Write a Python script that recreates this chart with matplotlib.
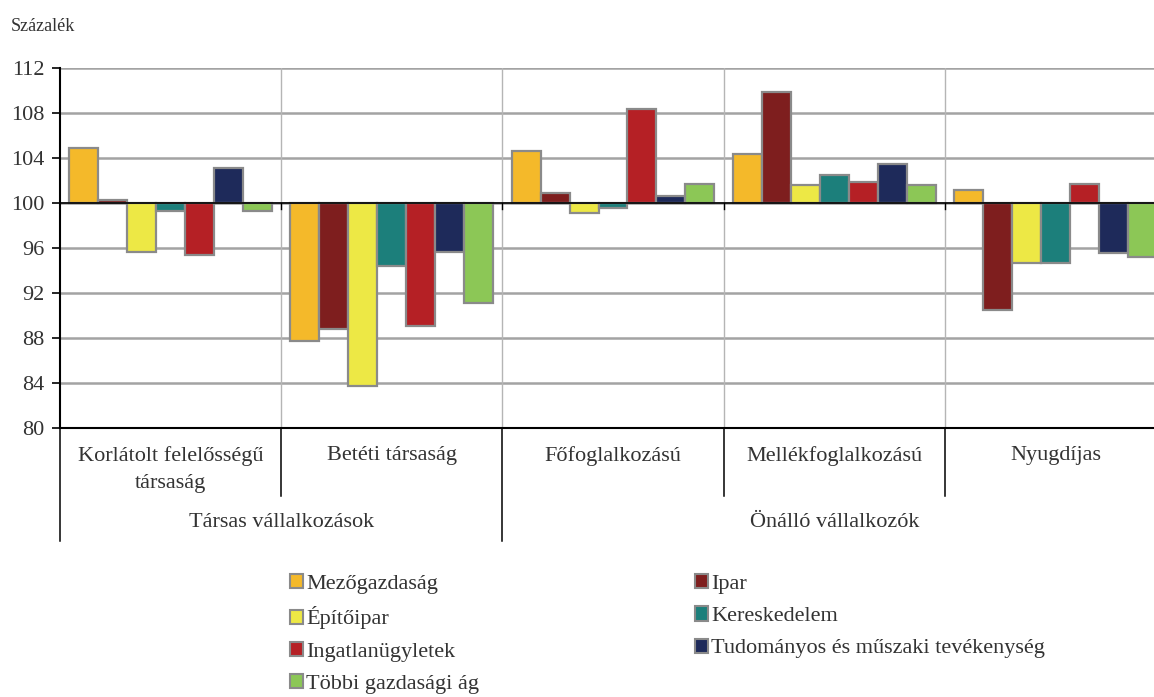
#%% Import packages
import numpy as np
from matplotlib import pyplot as plt
from matplotlib.patches import Patch

plt.rcParams['font.family'] = ['Liberation Serif', 'DejaVu Serif']

#%% Data
categories = ['Korlátolt felelősségű\ntársaság', 'Betéti társaság', 'Főfoglalkozású',
              'Mellékfoglalkozású', 'Nyugdíjas']
groups = ['Társas vállalkozások', 'Önálló vállalkozók']
groupSpans = [(0, 2), (2, 5)]

series = ['Mezőgazdaság', 'Ipar', 'Építőipar', 'Kereskedelem',
          'Ingatlanügyletek', 'Tudományos és műszaki tevékenység', 'Többi gazdasági ág']
colors = ['#f4b92a', '#7e1e1e', '#ede845', '#1c7f7b', '#b52025', '#1e2a5a', '#8cc756']

mezogazdasag = [104.9, 87.7, 104.6, 104.4, 101.2]
ipar = [100.3, 88.8, 100.9, 109.9, 90.5]
epitoipar = [95.7, 83.7, 99.1, 101.6, 94.7]
kereskedelem = [99.3, 94.4, 99.6, 102.5, 94.7]
ingatlan = [95.4, 89.1, 108.4, 101.9, 101.7]
tudomanyos = [103.1, 95.7, 100.6, 103.5, 95.6]
tobbi = [99.3, 91.1, 101.7, 101.6, 95.2]
values = [mezogazdasag, ipar, epitoipar, kereskedelem, ingatlan, tudomanyos, tobbi]

base = 100
yticks = np.arange(80, 113, 4)

#%% Plot
fig = plt.figure(figsize=(11.54, 6.97), dpi=100)
ax = fig.add_axes([0.052, 0.386, 0.9584, 0.516])

barWidth = 0.131
offset = (1 - barWidth * len(series)) / 2
x = np.arange(len(categories))
for j, (name, vals) in enumerate(zip(series, values)):
    heights = [v - base for v in vals]
    ax.bar(x + offset + j * barWidth, heights, width=barWidth, bottom=base, align='edge',
           color=colors[j], edgecolor='#8a8a8a', linewidth=1.6, label=name, zorder=3)

ax.set_xlim(0, len(categories))
ax.set_ylim(80, 112)
ax.set_yticks(yticks)
ax.set_yticklabels([str(t) for t in yticks], fontsize=16, color='#333333')
ax.set_xticks([])
ax.tick_params(axis='y', direction='out', length=6, width=1.2, color='black', pad=5)

ax.set_axisbelow(True)
ax.yaxis.grid(True, color='#a3a3a3', linewidth=1.8)
for i in range(1, len(categories)):
    ax.axvline(i, color='#b5b5b5', linewidth=1.0, zorder=1)
    ax.plot([i, i], [base, base - 0.5], color='black', linewidth=1.0, zorder=4)
ax.axhline(base, color='black', linewidth=1.2, zorder=4)

for side in ['top', 'right']:
    ax.spines[side].set_visible(False)
ax.spines['left'].set_linewidth(1.5)
ax.spines['bottom'].set_linewidth(1.5)

#%% Category axis below
trans = ax.get_xaxis_transform()
for i, cat in enumerate(categories):
    ax.text(i + 0.5, -0.05, cat, transform=trans, ha='center', va='top',
            fontsize=16, color='#333333', linespacing=1.55)
for i in range(1, len(categories)):
    if i not in [s for s, e in groupSpans]:
        ax.plot([i, i], [0, -0.19], transform=trans, color='black', linewidth=1.1, clip_on=False)
for g, (s, e) in zip(groups, groupSpans):
    ax.plot([s, s], [0, -0.315], transform=trans, color='black', linewidth=1.1, clip_on=False)
    ax.text((s + e) / 2, -0.264, g, transform=trans, ha='center', va='center',
            fontsize=16, color='#333333')

fig.text(0.009, 0.962, 'Százalék', fontsize=13, color='#333333', ha='left', va='center')

#%% Legend (two columns, filled row by row)
handles = [Patch(facecolor=c, edgecolor='#8a8a8a', linewidth=1.5) for c in colors]
legendCols = [[0, 2, 4, 6], [1, 3, 5]]
legendX = [0.251, 0.602]
for cols, lx in zip(legendCols, legendX):
    fig.legend([handles[k] for k in cols], [series[k] for k in cols], ncol=1,
               loc='upper left', bbox_to_anchor=(lx, 0.176), frameon=False,
               fontsize=16, handlelength=0.6, handleheight=0.6, handletextpad=0.15,
               labelspacing=0.55, borderaxespad=0, borderpad=0, labelcolor='#333333')

plt.savefig('out.png', dpi=100)
